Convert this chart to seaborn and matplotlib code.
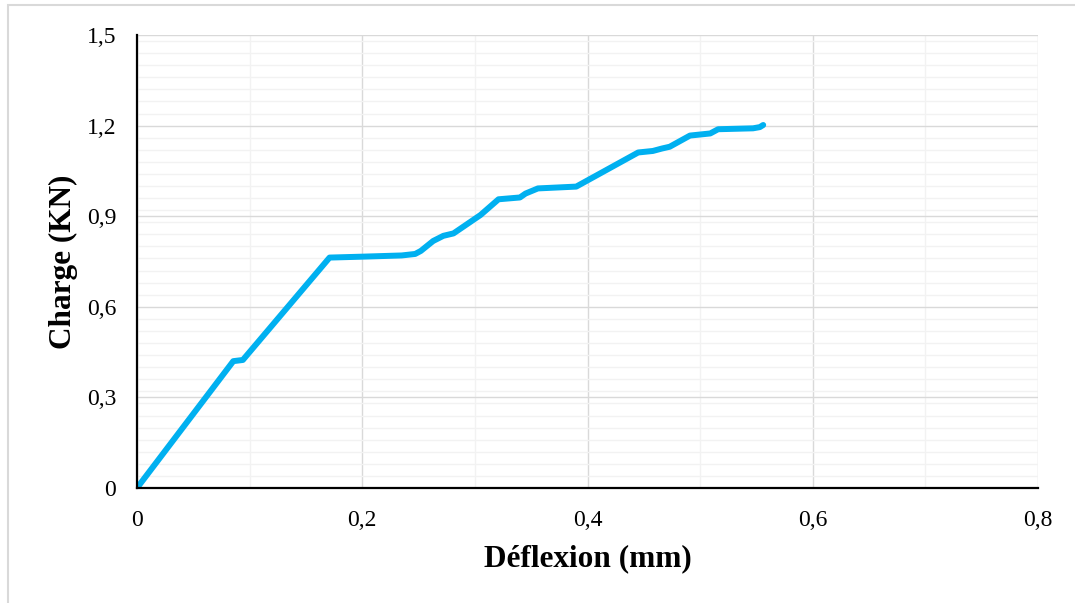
import matplotlib
matplotlib.use("Agg")
import matplotlib.pyplot as plt
from matplotlib.patches import Rectangle
from matplotlib.ticker import MultipleLocator, FixedLocator
import numpy as np
import pandas as pd
import seaborn as sns

# Load-deflection curve
deflexion = [0, 0.0855, 0.094, 0.171, 0.200, 0.235, 0.247, 0.252, 0.263, 0.272,
             0.281, 0.305, 0.321, 0.340, 0.345, 0.356, 0.390, 0.445, 0.458, 0.466,
             0.473, 0.491, 0.509, 0.516, 0.547, 0.553, 0.556]
charge = [0, 0.420, 0.424, 0.763, 0.766, 0.770, 0.775, 0.785, 0.818, 0.835,
          0.843, 0.904, 0.956, 0.962, 0.975, 0.992, 0.998, 1.111, 1.116, 1.124,
          1.130, 1.167, 1.174, 1.188, 1.191, 1.195, 1.202]

x_ticks = [0, 0.2, 0.4, 0.6, 0.8]
x_labels = ["0", "0,2", "0,4", "0,6", "0,8"]
y_ticks = [0, 0.3, 0.6, 0.9, 1.2, 1.5]
y_labels = ["0", "0,3", "0,6", "0,9", "1,2", "1,5"]

sns.set_theme(style="white")
plt.rcParams["font.family"] = ["Liberation Serif", "DejaVu Serif"]
plt.rcParams["text.color"] = "black"
plt.rcParams["axes.labelcolor"] = "black"

df = pd.DataFrame({"Déflexion": deflexion, "Charge": charge})

fig = plt.figure(figsize=(10.75, 6.03), dpi=100)
ax = fig.add_axes([137 / 1075, 1 - 488 / 603, (1038 - 137) / 1075, (488 - 35) / 603])

sns.lineplot(data=df, x="Déflexion", y="Charge", sort=False, ax=ax,
             color="#00B0F0", linewidth=4.3, solid_capstyle="round",
             solid_joinstyle="round", zorder=5)

ax.set_xlim(0, 0.8)
ax.set_ylim(0, 1.5)
ax.xaxis.set_major_locator(FixedLocator(x_ticks))
ax.yaxis.set_major_locator(FixedLocator(y_ticks))
ax.set_xticklabels(x_labels)
ax.set_yticklabels(y_labels)
ax.xaxis.set_minor_locator(MultipleLocator(0.1))
ax.yaxis.set_minor_locator(FixedLocator(np.arange(0, 1.53, 0.04)))

ax.grid(which="minor", color="#f2f2f2", linewidth=1.0, zorder=0)
ax.grid(which="major", color="#d9d9d9", linewidth=1.0, zorder=1)
ax.set_axisbelow(True)

ax.tick_params(axis="both", which="both", length=0, labelsize=17, colors="black")
ax.tick_params(axis="x", pad=16)
ax.tick_params(axis="y", pad=15)

for side in ("top", "right"):
    ax.spines[side].set_visible(False)
for side in ("left", "bottom"):
    ax.spines[side].set_color("black")
    ax.spines[side].set_linewidth(1.6)
    ax.spines[side].set_zorder(6)

ax.set_xlabel("Déflexion (mm)", fontsize=22.5, fontweight="bold", labelpad=9,
              color="black")
ax.set_ylabel("Charge (KN)", fontsize=22.5, fontweight="bold", labelpad=6,
              color="black")

# Chart frame
fig.patches.append(Rectangle((8 / 1075, -0.1), 1.2, 1.1 - 5 / 603,
                             transform=fig.transFigure, fill=False,
                             edgecolor="#d9d9d9", linewidth=1.5))

fig.savefig("out.png", dpi=100, facecolor="white")
